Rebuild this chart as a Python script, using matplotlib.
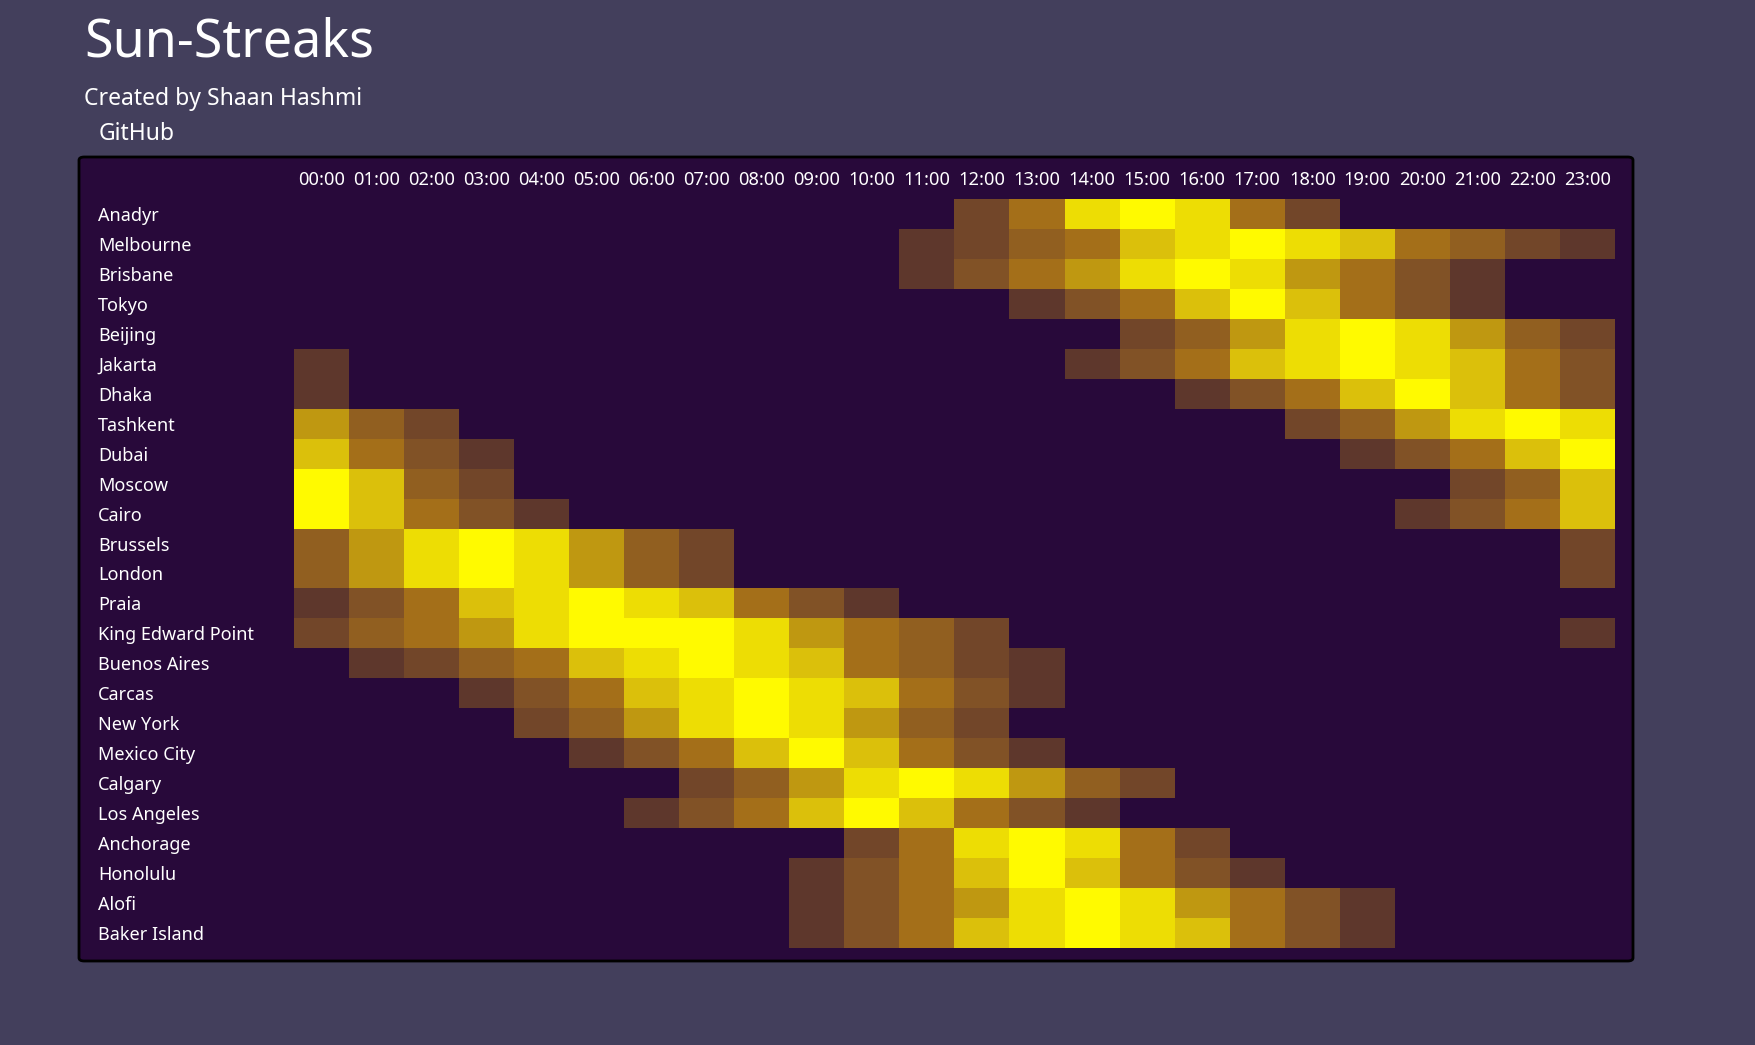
import numpy as np
import matplotlib.pyplot as plt
from matplotlib.colors import ListedColormap, BoundaryNorm
from matplotlib.patches import FancyBboxPatch

plt.rcParams['font.family'] = ['Noto Sans', 'DejaVu Sans']

# 데이터
cities = ['Anadyr', 'Melbourne', 'Brisbane', 'Tokyo', 'Beijing', 'Jakarta', 'Dhaka',
          'Tashkent', 'Dubai', 'Moscow', 'Cairo', 'Brussels', 'London', 'Praia',
          'King Edward Point', 'Buenos Aires', 'Carcas', 'New York', 'Mexico City',
          'Calgary', 'Los Angeles', 'Anchorage', 'Honolulu', 'Alofi', 'Baker Island']
hours = ['%02d:00' % h for h in range(24)]

# 밝기 단계 (0 = 밤, 9 = 한낮)
anadyr       = [0,0,0,0,0,0,0,0,0,0,0,0,2,5,8,9,8,5,2,0,0,0,0,0]
melbourne    = [0,0,0,0,0,0,0,0,0,0,0,1,2,4,5,7,8,9,8,7,5,4,2,1]
brisbane     = [0,0,0,0,0,0,0,0,0,0,0,1,3,5,6,8,9,8,6,5,3,1,0,0]
tokyo        = [0,0,0,0,0,0,0,0,0,0,0,0,0,1,3,5,7,9,7,5,3,1,0,0]
beijing      = [0,0,0,0,0,0,0,0,0,0,0,0,0,0,0,2,4,6,8,9,8,6,4,2]
jakarta      = [1,0,0,0,0,0,0,0,0,0,0,0,0,0,1,3,5,7,8,9,8,7,5,3]
dhaka        = [1,0,0,0,0,0,0,0,0,0,0,0,0,0,0,0,1,3,5,7,9,7,5,3]
tashkent     = [6,4,2,0,0,0,0,0,0,0,0,0,0,0,0,0,0,0,2,4,6,8,9,8]
dubai        = [7,5,3,1,0,0,0,0,0,0,0,0,0,0,0,0,0,0,0,1,3,5,7,9]
moscow       = [9,7,4,2,0,0,0,0,0,0,0,0,0,0,0,0,0,0,0,0,0,2,4,7]
cairo        = [9,7,5,3,1,0,0,0,0,0,0,0,0,0,0,0,0,0,0,0,1,3,5,7]
brussels     = [4,6,8,9,8,6,4,2,0,0,0,0,0,0,0,0,0,0,0,0,0,0,0,2]
london       = [4,6,8,9,8,6,4,2,0,0,0,0,0,0,0,0,0,0,0,0,0,0,0,2]
praia        = [1,3,5,7,8,9,8,7,5,3,1,0,0,0,0,0,0,0,0,0,0,0,0,0]
king_edward  = [2,4,5,6,8,9,9,9,8,6,5,4,2,0,0,0,0,0,0,0,0,0,0,1]
buenos_aires = [0,1,2,4,5,7,8,9,8,7,5,4,2,1,0,0,0,0,0,0,0,0,0,0]
carcas       = [0,0,0,1,3,5,7,8,9,8,7,5,3,1,0,0,0,0,0,0,0,0,0,0]
new_york     = [0,0,0,0,2,4,6,8,9,8,6,4,2,0,0,0,0,0,0,0,0,0,0,0]
mexico_city  = [0,0,0,0,0,1,3,5,7,9,7,5,3,1,0,0,0,0,0,0,0,0,0,0]
calgary      = [0,0,0,0,0,0,0,2,4,6,8,9,8,6,4,2,0,0,0,0,0,0,0,0]
los_angeles  = [0,0,0,0,0,0,1,3,5,7,9,7,5,3,1,0,0,0,0,0,0,0,0,0]
anchorage    = [0,0,0,0,0,0,0,0,0,0,2,5,8,9,8,5,2,0,0,0,0,0,0,0]
honolulu     = [0,0,0,0,0,0,0,0,0,1,3,5,7,9,7,5,3,1,0,0,0,0,0,0]
alofi        = [0,0,0,0,0,0,0,0,0,1,3,5,6,8,9,8,6,5,3,1,0,0,0,0]
baker_island = [0,0,0,0,0,0,0,0,0,1,3,5,7,8,9,8,7,5,3,1,0,0,0,0]

grid = np.array([anadyr, melbourne, brisbane, tokyo, beijing, jakarta, dhaka,
                 tashkent, dubai, moscow, cairo, brussels, london, praia,
                 king_edward, buenos_aires, carcas, new_york, mexico_city,
                 calgary, los_angeles, anchorage, honolulu, alofi, baker_island])

# 색상
page_bg = '#433f5c'
box_bg = '#28093a'
level_colors = ['#28093a', '#5e372c', '#724629', '#815226', '#915f20',
                '#a46f19', '#bf9811', '#dbc00b', '#eddd04', '#fffa00']
cmap = ListedColormap(level_colors)
norm = BoundaryNorm(np.arange(-0.5, 10.5, 1), cmap.N)

W, H = 1755, 1045
fig = plt.figure(figsize=(W / 100, H / 100), dpi=100)
fig.patch.set_facecolor(page_bg)

# 박스
box = FancyBboxPatch((79 / W, 1 - 961 / H), (1633 - 79) / W, (961 - 157) / H,
                     boxstyle='round,pad=0,rounding_size=0.003',
                     transform=fig.transFigure, facecolor=box_bg,
                     edgecolor='black', linewidth=2, zorder=-1)
fig.patches.append(box)

# 제목
fig.text(84 / W, 1 - 43 / H, 'Sun-Streaks', color='white', fontsize=37.5, va='center')
fig.text(84 / W, 1 - 99 / H, 'Created by Shaan Hashmi', color='white', fontsize=16.5, va='center')
fig.text(99 / W, 1 - 134 / H, 'GitHub', color='white', fontsize=16.5, va='center')

# 히트맵
ax = fig.add_axes([294 / W, 1 - 948 / H, (1615 - 294) / W, (948 - 199) / H])
ax.set_zorder(2)
ax.imshow(grid, cmap=cmap, norm=norm, aspect='auto', interpolation='nearest')
ax.set_facecolor(box_bg)
for s in ax.spines.values():
    s.set_visible(False)

ax.xaxis.tick_top()
ax.set_xticks(range(len(hours)))
ax.set_xticklabels(hours, color='white', fontsize=13.2)
ax.set_yticks(range(len(cities)))
ax.set_yticklabels(cities, color='white', fontsize=13, ha='left')
ax.tick_params(axis='x', length=0, pad=7)
ax.tick_params(axis='y', length=0, pad=141)

fig.savefig('out.png', dpi=100, facecolor=page_bg)
